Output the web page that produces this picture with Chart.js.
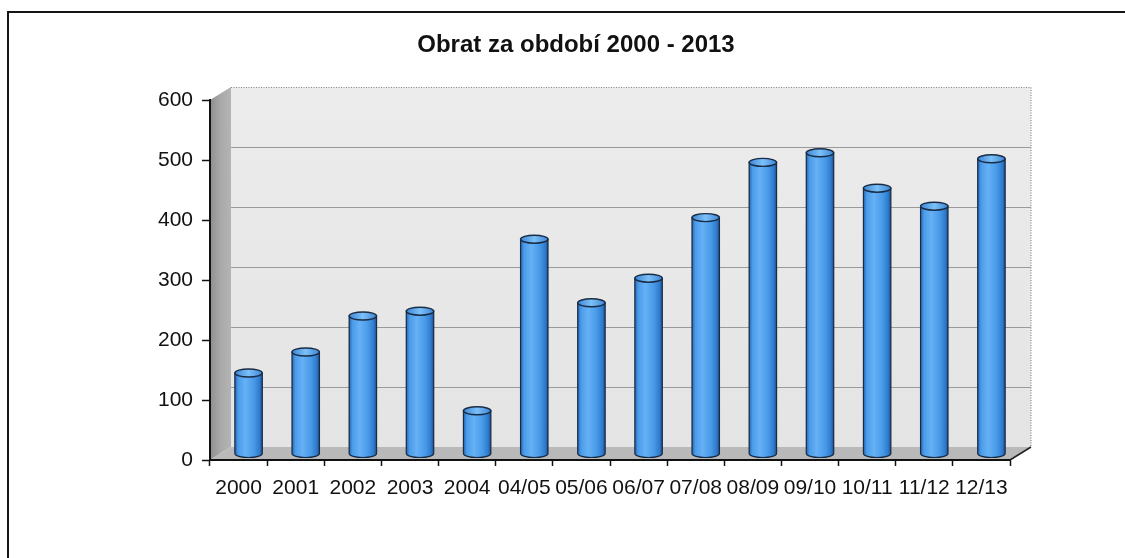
<!DOCTYPE html>
<html>
<head>
<meta charset="utf-8">
<script src="https://cdn.jsdelivr.net/npm/chart.js@4.4.1/dist/chart.umd.min.js"></script>
<style>
  html, body { margin: 0; padding: 0; background: #ffffff; overflow: hidden; }
  #frame { position: absolute; left: 7px; top: 11px; width: 1200px; height: 640px; border: 2px solid #151515; box-sizing: border-box; }
  #c { position: absolute; left: 0; top: 0; }
</style>
</head>
<body>
<div id="frame"></div>
<canvas id="c" width="1125" height="558"></canvas>
<script>
const categories = ['2000', '2001', '2002', '2003', '2004', '04/05', '05/06', '06/07', '07/08', '08/09', '09/10', '10/11', '11/12', '12/13'];
const turnover = [135, 170, 230, 238, 72, 358, 252, 293, 394, 486, 502, 443, 413, 492];
const yTickValues = [0, 100, 200, 300, 400, 500, 600];
const chartTitle = 'Obrat za období 2000 - 2013';

const DX = 21, DY = -13;        // depth offset of back wall
const BX = 10, BY = -6;         // bars sit at mid depth

const wallPlugin = {
  id: 'wall3d',
  beforeDraw(chart) {
    const ctx = chart.ctx;
    const xs = chart.scales.x, ys = chart.scales.y;
    const L = xs.left, R = xs.right, T = ys.top, B = ys.bottom;
    ctx.save();
    const g = ctx.createLinearGradient(0, T + DY, 0, B + DY);
    g.addColorStop(0, '#ececec');
    g.addColorStop(1, '#e4e4e4');
    ctx.fillStyle = g;
    ctx.fillRect(L + DX, T + DY, R - L, B - T);
    ctx.strokeStyle = '#9a9a9a';
    ctx.lineWidth = 1.2;
    yTickValues.forEach(v => {
      if (v === 0 || v === 600) return;
      const y = Math.round(ys.getPixelForValue(v) + DY) + 0.5;
      ctx.beginPath();
      ctx.moveTo(L + DX, y);
      ctx.lineTo(R + DX, y);
      ctx.stroke();
    });
    ctx.strokeStyle = '#8a8a8a';
    ctx.setLineDash([1, 1.5]);
    ctx.beginPath();
    ctx.moveTo(L + DX, T + DY + 0.5);
    ctx.lineTo(R + DX, T + DY + 0.5);
    ctx.lineTo(R + DX, B + DY);
    ctx.stroke();
    ctx.setLineDash([]);
    const sg = ctx.createLinearGradient(L, 0, L + DX, 0);
    sg.addColorStop(0, '#8e8e8e');
    sg.addColorStop(0.5, '#a9a9a9');
    sg.addColorStop(1, '#b4b4b4');
    ctx.fillStyle = sg;
    ctx.beginPath();
    ctx.moveTo(L, T);
    ctx.lineTo(L + DX, T + DY);
    ctx.lineTo(L + DX, B + DY);
    ctx.lineTo(L, B);
    ctx.closePath();
    ctx.fill();
    ctx.fillStyle = '#b9b9b9';
    ctx.beginPath();
    ctx.moveTo(L, B);
    ctx.lineTo(L + DX, B + DY);
    ctx.lineTo(R + DX, B + DY);
    ctx.lineTo(R, B);
    ctx.closePath();
    ctx.fill();
    ctx.strokeStyle = '#222';
    ctx.lineWidth = 1.5;
    ctx.beginPath();
    ctx.moveTo(R, B);
    ctx.lineTo(R + DX, B + DY);
    ctx.stroke();
    ctx.restore();
  },
  beforeDatasetsDraw(chart) {
    chart.ctx.save();
    chart.ctx.translate(BX, BY);
  },
  afterDatasetsDraw(chart) {
    const ctx = chart.ctx;
    const meta = chart.getDatasetMeta(0);
    meta.data.forEach(el => {
      const w = el.width, cx = el.x, top = el.y, base = el.base;
      const rx = w / 2, ry = 4;
      const left = cx - rx, right = cx + rx;
      const g = ctx.createLinearGradient(left, 0, right, 0);
      g.addColorStop(0, '#2566b3');
      g.addColorStop(0.12, '#4a9be8');
      g.addColorStop(0.38, '#66b1f6');
      g.addColorStop(0.7, '#4799e8');
      g.addColorStop(0.9, '#2f7bcc');
      g.addColorStop(1, '#1d4f8f');
      ctx.beginPath();
      ctx.moveTo(left, top);
      ctx.lineTo(left, base);
      ctx.ellipse(cx, base, rx, ry, 0, Math.PI, 0, true);
      ctx.lineTo(right, top);
      ctx.closePath();
      ctx.fillStyle = g;
      ctx.fill();
      ctx.strokeStyle = '#1a2c44';
      ctx.lineWidth = 1.2;
      ctx.stroke();
      const tg = ctx.createLinearGradient(left, 0, right, 0);
      tg.addColorStop(0, '#3d86d6');
      tg.addColorStop(0.5, '#7cc0f8');
      tg.addColorStop(1, '#3d86d6');
      ctx.beginPath();
      ctx.ellipse(cx, top, rx, ry, 0, 0, Math.PI * 2);
      ctx.fillStyle = tg;
      ctx.fill();
      ctx.strokeStyle = '#1a2c44';
      ctx.lineWidth = 1.4;
      ctx.stroke();
    });
    ctx.restore();
  }
};

const FONT = "'Liberation Sans', Arial, sans-serif";

new Chart(document.getElementById('c'), {
  type: 'bar',
  data: {
    labels: categories,
    datasets: [{
      label: 'Obrat',
      data: turnover,
      backgroundColor: '#4a9be8',
      borderWidth: 0,
      barPercentage: 0.8,
      categoryPercentage: 0.6,
      yAxisID: 'y'
    }]
  },
  options: {
    responsive: false,
    animation: false,
    devicePixelRatio: 1,
    layout: { padding: { left: 27, right: 0, top: 0, bottom: 0 } },
    plugins: {
      legend: { display: false },
      tooltip: { enabled: false },
      title: {
        display: true,
        text: chartTitle,
        color: '#111',
        font: { family: FONT, size: 24, weight: 'bold', lineHeight: 1.2 },
        padding: { top: 31, bottom: 40.2 }
      }
    },
    scales: {
      x: {
        offset: true,
        grid: { display: true, drawOnChartArea: false, offset: true, tickLength: 6, tickColor: '#111', tickWidth: 1.5 },
        border: { display: true, color: '#111', width: 2 },
        ticks: { color: '#111', font: { family: FONT, size: 21 }, padding: 10, autoSkip: false, maxRotation: 0, minRotation: 0 },
        afterFit(scale) { scale.height = 98; }
      },
      y: {
        position: 'left',
        min: 0,
        max: 600,
        afterBuildTicks(scale) { scale.ticks = yTickValues.map(v => ({ value: v })); },
        grid: { display: true, drawOnChartArea: false, tickLength: 8, tickColor: '#111', tickWidth: 1.5 },
        border: { display: true, color: '#111', width: 2 },
        ticks: { color: '#111', font: { family: FONT, size: 21 }, padding: 9 },
        afterFit(scale) { scale.width = 183; }
      },
      yRight: {
        position: 'right',
        min: 0,
        max: 600,
        grid: { display: false, drawTicks: false },
        border: { display: false },
        ticks: { display: false },
        afterFit(scale) { scale.width = 115; }
      }
    }
  },
  plugins: [wallPlugin]
});
</script>
</body>
</html>
